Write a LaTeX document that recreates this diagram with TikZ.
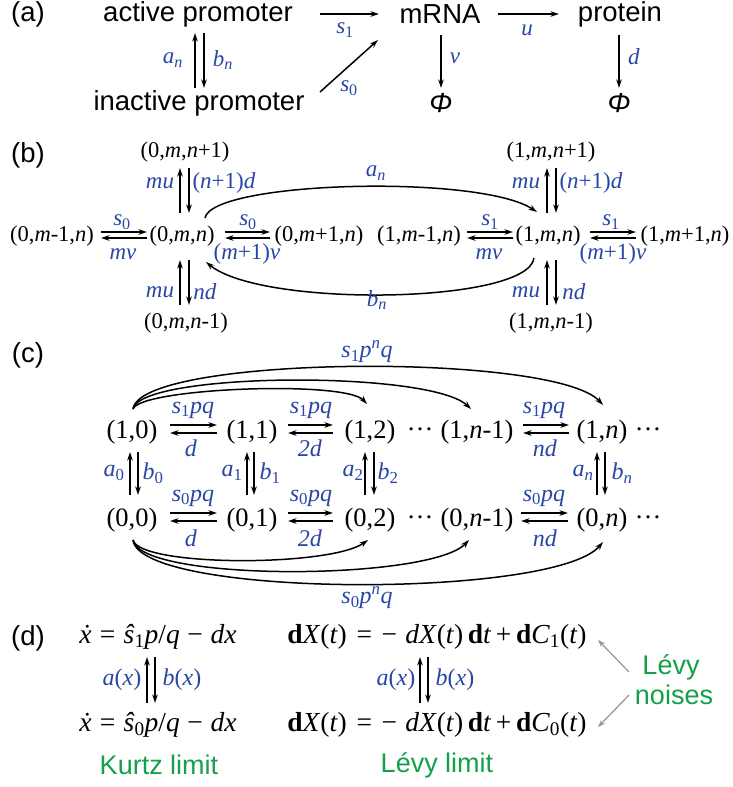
\documentclass[tikz,border=0pt]{standalone}
\usepackage{fontspec}
\setmainfont{Liberation Serif}
\setsansfont{Liberation Sans}
\usetikzlibrary{arrows.meta,calc}
\definecolor{lblue}{RGB}{40,70,165}
\definecolor{lgreen}{RGB}{20,160,75}
\definecolor{lgray}{RGB}{150,150,150}
\newcommand\ti[1]{\textit{#1}}
\newcommand\sbs[1]{\textsubscript{#1}}
\newcommand\ddd{\raisebox{0.23em}{…}}
\begin{document}
\begin{tikzpicture}[x=1pt,y=-1pt,
  every node/.style={inner sep=0pt,outer sep=0pt},
  sflab/.style={font=\fontsize{27.5}{30}\selectfont\sffamily},
  stb/.style={font=\fontsize{22.5}{25}\selectfont},
  stc/.style={font=\fontsize{26.5}{28}\selectfont},
  rate/.style={text=lblue,font=\fontsize{23}{25}\selectfont},
  ratec/.style={text=lblue,font=\fontsize{24}{26}\selectfont},
  eqn/.style={font=\fontsize{27.5}{30}\selectfont},
  grn/.style={text=lgreen,font=\fontsize{27}{30}\selectfont\sffamily},
  arr/.style={draw=black,line width=1.5pt,-{Stealth[length=8.5pt,width=5.5pt]}},
  garr/.style={draw=lgray,line width=1.2pt,-{Stealth[length=7.5pt,width=5.5pt]}}]
\useasboundingbox (0,0) rectangle (732,787);

% ---------- (a)
\node[sflab] (pa) at (28,14) {(a)};
\node[sflab] (act) at (198,14) {active promoter};
\node[sflab] (inact) at (199,103) {inactive promoter};
\node[sflab] (mrna) at (440,14) {mRNA};
\node[sflab] (prot) at (620,14) {protein};
\node[sflab] (phiA) at (441,103) {\itshape Φ};
\node[sflab] (phiB) at (619,103) {\itshape Φ};
\draw[arr] ($(inact)+(-4,-15)$) -- ($(act)+(-3,19)$);
\draw[arr] ($(act)+(6,19)$) -- ($(inact)+(5,-15)$);
\node[rate] (lan) at (173,60) {\ti{a}\sbs{\ti{n}}};
\node[rate] (lbn) at (223,60) {\ti{b}\sbs{\ti{n}}};
\draw[arr] ($(act)+(122,0)$) -- ($(mrna)+(-61,0)$);
\node[rate] (ls1) at (345,30) {\ti{s}\sbs{1}};
\draw[arr] ($(inact)+(121,-11)$) -- ($(mrna)+(-62,26)$);
\node[rate] (ls0) at (349,88) {\ti{s}\sbs{0}};
\draw[arr] ($(mrna)+(58,0)$) -- ($(prot)+(-61,0)$);
\node[rate] (lu) at (527,30) {\ti{u}};
\draw[arr] ($(mrna)+(1,21)$) -- ($(phiA)+(0,-15)$);
\node[rate] (lv) at (455,58) {\ti{v}};
\draw[arr] ($(prot)+(-1,21)$) -- ($(phiB)+(0,-15)$);
\node[rate] (ld) at (634,57) {\ti{d}};

% ---------- (b)
\node[sflab] (pb) at (28,155) {(b)};
\node[stb] (b0u) at (185,152) {(0,\ti{m},\ti{n}+1)};
\node[stb] (b0l) at (52,236) {(0,\ti{m}-1,\ti{n})};
\node[stb] (b0c) at (182,236) {(0,\ti{m},\ti{n})};
\node[stb] (b0r) at (319,236) {(0,\ti{m}+1,\ti{n})};
\node[stb] (b0d) at (186,323) {(0,\ti{m},\ti{n}-1)};
\node[stb] (b1u) at (551,152) {(1,\ti{m},\ti{n}+1)};
\node[stb] (b1l) at (419,236) {(1,\ti{m}-1,\ti{n})};
\node[stb] (b1c) at (548,236) {(1,\ti{m},\ti{n})};
\node[stb] (b1r) at (685,236) {(1,\ti{m}+1,\ti{n})};
\node[stb] (b1d) at (551,323) {(1,\ti{m},\ti{n}-1)};
% horizontal pairs
\draw[arr] ($(b0l)+(49,-4)$) -- ($(b0c)+(-35,-4)$);
\draw[arr] ($(b0c)+(-35,2)$) -- ($(b0l)+(49,2)$);
\draw[arr] ($(b0c)+(43,-4)$) -- ($(b0r)+(-49,-4)$);
\draw[arr] ($(b0r)+(-49,2)$) -- ($(b0c)+(43,2)$);
\draw[arr] ($(b1l)+(48,-4)$) -- ($(b1c)+(-35,-4)$);
\draw[arr] ($(b1c)+(-35,2)$) -- ($(b1l)+(48,2)$);
\draw[arr] ($(b1c)+(42,-4)$) -- ($(b1r)+(-49,-4)$);
\draw[arr] ($(b1r)+(-49,2)$) -- ($(b1c)+(42,2)$);
\node[rate] (r1) at (122,222) {\ti{s}\sbs{0}};
\node[rate] (r2) at (123,254) {\ti{mv}};
\node[rate] (r3) at (248,222) {\ti{s}\sbs{0}};
\node[rate] (r4) at (247,254) {(\ti{m}+1)\ti{v}};
\node[rate] (r5) at (490,222) {\ti{s}\sbs{1}};
\node[rate] (r6) at (489,254) {\ti{mv}};
\node[rate] (r7) at (611,222) {\ti{s}\sbs{1}};
\node[rate] (r8) at (613,254) {(\ti{m}+1)\ti{v}};
% vertical pairs
\draw[arr] ($(b0c)+(-2,-23)$) -- ($(b0u)+(-5,16)$);
\draw[arr] ($(b0u)+(4,16)$) -- ($(b0c)+(7,-23)$);
\draw[arr] ($(b0d)+(-6,-18)$) -- ($(b0c)+(-2,24)$);
\draw[arr] ($(b0c)+(7,24)$) -- ($(b0d)+(3,-18)$);
\draw[arr] ($(b1c)+(-1,-23)$) -- ($(b1u)+(-4,16)$);
\draw[arr] ($(b1u)+(5,16)$) -- ($(b1c)+(8,-23)$);
\draw[arr] ($(b1d)+(-4,-18)$) -- ($(b1c)+(-1,24)$);
\draw[arr] ($(b1c)+(8,24)$) -- ($(b1d)+(5,-18)$);
\node[rate] (r9) at (160,183) {\ti{mu}};
\node[rate] (r10) at (224,183) {(\ti{n}+1)\ti{d}};
\node[rate] (r11) at (160,292) {\ti{mu}};
\node[rate] (r12) at (205,292) {\ti{nd}};
\node[rate] (r13) at (526,183) {\ti{mu}};
\node[rate] (r14) at (591,183) {(\ti{n}+1)\ti{d}};
\node[rate] (r15) at (526,292) {\ti{mu}};
\node[rate] (r16) at (574,292) {\ti{nd}};
% switching arcs
\draw[arr] ($(b0c)+(23,-18)$) .. controls +(7,-37) and +(-57,-38) .. ($(b1c)+(-11,-24)$);
\draw[arr] ($(b1c)+(-14,22)$) .. controls +(-6,46) and +(56,46) .. ($(b0c)+(24,26)$);
\node[rate] (ran) at (376,173) {\ti{a}\sbs{\ti{n}}};
\node[rate] (rbn) at (377,300) {\ti{b}\sbs{\ti{n}}};

% ---------- (c)
\node[sflab] (pc) at (28,355) {(c)};
\node[stc] (c10) at (132,432) {(1,0)};
\node[stc] (c11) at (252,432) {(1,1)};
\node[stc] (c12) at (370,432) {(1,2)};
\node[stc] (cd1) at (420,432) {\ddd};
\node[stc] (c1m) at (477,432) {(1,\ti{n}-1)};
\node[stc] (c1n) at (602,432) {(1,\ti{n})};
\node[stc] (cd2) at (648,432) {\ddd};
\node[stc] (c00) at (132,520) {(0,0)};
\node[stc] (c01) at (252,520) {(0,1)};
\node[stc] (c02) at (370,520) {(0,2)};
\node[stc] (cd3) at (420,520) {\ddd};
\node[stc] (c0m) at (477,520) {(0,\ti{n}-1)};
\node[stc] (c0n) at (602,520) {(0,\ti{n})};
\node[stc] (cd4) at (648,520) {\ddd};
% horizontal pairs row 1
\draw[arr] ($(c10)+(38,-7)$) -- ($(c11)+(-35,-7)$);
\draw[arr] ($(c11)+(-35,1)$) -- ($(c10)+(38,1)$);
\draw[arr] ($(c11)+(36,-7)$) -- ($(c12)+(-37,-7)$);
\draw[arr] ($(c12)+(-37,1)$) -- ($(c11)+(36,1)$);
\draw[arr] ($(c1m)+(46,-7)$) -- ($(c1n)+(-33,-7)$);
\draw[arr] ($(c1n)+(-33,1)$) -- ($(c1m)+(46,1)$);
% row 0
\draw[arr] ($(c00)+(38,-7)$) -- ($(c01)+(-35,-7)$);
\draw[arr] ($(c01)+(-35,1)$) -- ($(c00)+(38,1)$);
\draw[arr] ($(c01)+(36,-7)$) -- ($(c02)+(-37,-7)$);
\draw[arr] ($(c02)+(-37,1)$) -- ($(c01)+(36,1)$);
\draw[arr] ($(c0m)+(44,-7)$) -- ($(c0n)+(-34,-7)$);
\draw[arr] ($(c0n)+(-34,1)$) -- ($(c0m)+(44,1)$);
\node[ratec] (q1) at (193,410) {\ti{s}\sbs{1}\ti{pq}};
\node[ratec] (q2) at (191,448) {\ti{d}};
\node[ratec] (q3) at (311,410) {\ti{s}\sbs{1}\ti{pq}};
\node[ratec] (q4) at (310,448) {\ti{2d}};
\node[ratec] (q5) at (544,410) {\ti{s}\sbs{1}\ti{pq}};
\node[ratec] (q6) at (545,448) {\ti{nd}};
\node[ratec] (q7) at (193,498) {\ti{s}\sbs{0}\ti{pq}};
\node[ratec] (q8) at (191,538) {\ti{d}};
\node[ratec] (q9) at (311,498) {\ti{s}\sbs{0}\ti{pq}};
\node[ratec] (q10) at (310,538) {\ti{2d}};
\node[ratec] (q11) at (544,498) {\ti{s}\sbs{0}\ti{pq}};
\node[ratec] (q12) at (545,538) {\ti{nd}};
% vertical pairs
\draw[arr] ($(c00)+(-2,-25)$) -- ($(c10)+(-2,20)$);
\draw[arr] ($(c10)+(6,20)$) -- ($(c00)+(6,-25)$);
\draw[arr] ($(c01)+(-5,-25)$) -- ($(c11)+(-5,20)$);
\draw[arr] ($(c11)+(2,20)$) -- ($(c01)+(2,-25)$);
\draw[arr] ($(c02)+(-5,-25)$) -- ($(c12)+(-5,20)$);
\draw[arr] ($(c12)+(4,20)$) -- ($(c02)+(4,-25)$);
\draw[arr] ($(c0n)+(-5,-25)$) -- ($(c1n)+(-5,20)$);
\draw[arr] ($(c1n)+(3,20)$) -- ($(c0n)+(3,-25)$);
\node[ratec] (v1) at (114,473) {\ti{a}\sbs{0}};
\node[ratec] (v2) at (153,473) {\ti{b}\sbs{0}};
\node[ratec] (v3) at (232,473) {\ti{a}\sbs{1}};
\node[ratec] (v4) at (270,473) {\ti{b}\sbs{1}};
\node[ratec] (v5) at (353,473) {\ti{a}\sbs{2}};
\node[ratec] (v6) at (388,473) {\ti{b}\sbs{2}};
\node[ratec] (v7) at (583,473) {\ti{a}\sbs{\ti{n}}};
\node[ratec] (v8) at (622,473) {\ti{b}\sbs{\ti{n}}};
% long jumps
\draw[arr] ($(c10)+(1,-23)$) .. controls +(7,-21) and +(-22,-24) .. ($(c12)+(-3,-28)$);
\draw[arr] ($(c10)+(1,-23)$) .. controls +(7,-37) and +(-41,-39) .. ($(c1m)+(-6,-23)$);
\draw[arr] ($(c10)+(1,-23)$) .. controls +(7,-54) and +(-48,-53) .. ($(c1n)+(1,-27)$);
\draw[arr] ($(c00)+(1,20)$) .. controls +(7,27) and +(-38,27) .. ($(c02)+(-2,20)$);
\draw[arr] ($(c00)+(1,20)$) .. controls +(7,42) and +(-39,41) .. ($(c0m)+(-8,20)$);
\draw[arr] ($(c00)+(1,20)$) .. controls +(7,58) and +(-48,57) .. ($(c0n)+(1,22)$);
\node[ratec] (jt) at (367,352) {\ti{s}\sbs{1}\ti{p}\textsuperscript{\ti{n}}\ti{q}};
\node[ratec] (jb) at (367,598) {\ti{s}\sbs{0}\ti{p}\textsuperscript{\ti{n}}\ti{q}};

% ---------- (d)
\node[sflab] (pd) at (28,638) {(d)};
\node[eqn] (k1) at (158,637) {\ti{ẋ}\hspace{0.3em}=\hspace{0.3em}\ti{ŝ}\sbs{1}\ti{p}/\ti{q}\hspace{0.28em}−\hspace{0.28em}\ti{dx}};
\node[eqn] (k0) at (158,725) {\ti{ẋ}\hspace{0.3em}=\hspace{0.3em}\ti{ŝ}\sbs{0}\ti{p}/\ti{q}\hspace{0.28em}−\hspace{0.28em}\ti{dx}};
\node[eqn] (l1) at (437,637) {\textbf{d}\ti{X}(\ti{t})\hspace{0.35em}=\hspace{0.35em}−\hspace{0.3em}\ti{dX}(\ti{t})\,\textbf{d}\ti{t}\,+\,\textbf{d}\ti{C}\sbs{1}(\ti{t})};
\node[eqn] (l0) at (437,725) {\textbf{d}\ti{X}(\ti{t})\hspace{0.35em}=\hspace{0.35em}−\hspace{0.3em}\ti{dX}(\ti{t})\,\textbf{d}\ti{t}\,+\,\textbf{d}\ti{C}\sbs{0}(\ti{t})};
\draw[arr] ($(k0)+(-11,-22)$) -- ($(k1)+(-11,20)$);
\draw[arr] ($(k1)+(-3,20)$) -- ($(k0)+(-3,-22)$);
\draw[arr] ($(l0)+(-17,-22)$) -- ($(l1)+(-17,20)$);
\draw[arr] ($(l1)+(-9,20)$) -- ($(l0)+(-9,-22)$);
\node[ratec] (ax1) at (122,680) {\ti{a}(\ti{x})};
\node[ratec] (bx1) at (182,680) {\ti{b}(\ti{x})};
\node[ratec] (ax2) at (396,680) {\ti{a}(\ti{x})};
\node[ratec] (bx2) at (455,680) {\ti{b}(\ti{x})};
\node[grn] (kurtz) at (159,765) {Kurtz limit};
\node[grn] (levyl) at (437,765) {Lévy limit};
\node[grn] (levy) at (671,667) {Lévy};
\node[grn] (noises) at (674,695) {noises};
\draw[garr] ($(levy)+(-42,5)$) -- ($(l1)+(161,3)$);
\draw[garr] ($(noises)+(-45,0)$) -- ($(l0)+(161,2)$);
\end{tikzpicture}
\end{document}
